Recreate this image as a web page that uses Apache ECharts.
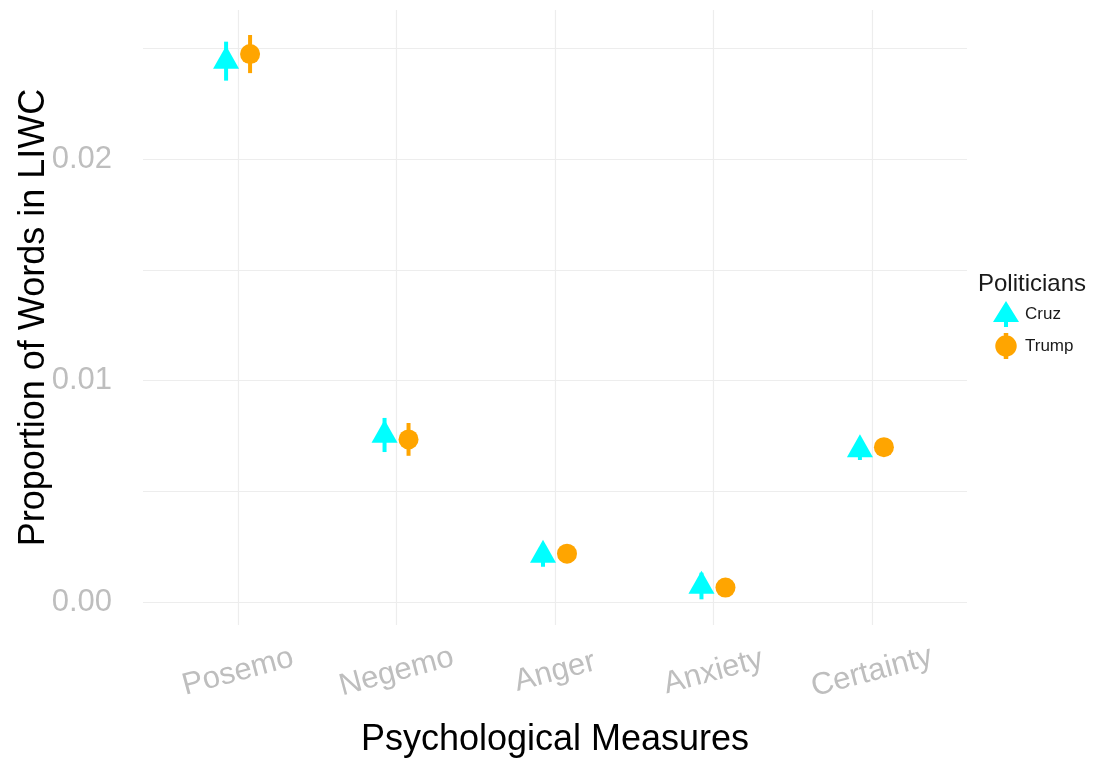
<!DOCTYPE html>
<html>
<head>
<meta charset="utf-8">
<script src="https://cdn.jsdelivr.net/npm/echarts@6/dist/echarts.min.js"></script>
<style>
html,body{margin:0;padding:0;background:#fff;}
#chart{width:1099px;height:763px;}
</style>
</head>
<body>
<div id="chart"></div>
<script>
// ---- data ----
const categories = ['Posemo', 'Negemo', 'Anger', 'Anxiety', 'Certainty'];
const politicians = ['Cruz', 'Trump'];
const cruzMean  = [0.02442, 0.00754, 0.00212, 0.00072, 0.00688];
const cruzErr   = [0.00088, 0.00077, 0.00053, 0.00060, 0.00047];
const trumpMean = [0.02474, 0.00734, 0.00218, 0.00065, 0.00699];
const trumpErr  = [0.00086, 0.00074, 0.00040, 0.00030, 0.00030];
const yTickValues  = [0, 0.005, 0.01, 0.015, 0.02, 0.025];
const yLabelValues = [0, 0.01, 0.02];

// ---- layout / style ----
const DODGE = 0.0757;           // dodge offset in category units
const FONT = 'Liberation Sans';
const CYAN = '#00ffff', ORANGE = '#ffa500';
const catPos = categories.map((c, i) => i + 1);

function points(mean, dir) {
  return mean.map((v, i) => [catPos[i] + dir * DODGE, v]);
}
function ranges(mean, err, dir) {
  return mean.map((v, i) => [catPos[i] + dir * DODGE, v - err[i], v + err[i]]);
}
function errRender(color) {
  return function (params, api) {
    const p1 = api.coord([api.value(0), api.value(1)]);
    const p2 = api.coord([api.value(0), api.value(2)]);
    return {
      type: 'line',
      shape: { x1: p1[0], y1: p1[1], x2: p2[0], y2: p2[1] },
      style: { stroke: color, lineWidth: 4 }
    };
  };
}

const cruzIcon  = 'path://M13,0 L26,21 L15,21 L15,26 L11,26 L11,21 L0,21 Z';
const trumpIcon = 'path://M0.5,11.5 A9.5,9.5 0 1,1 19.5,11.5 A9.5,9.5 0 1,1 0.5,11.5 Z M8,0 L12,0 L12,23 L8,23 Z';

const chart = echarts.init(document.getElementById('chart'));
chart.setOption({
  animation: false,
  backgroundColor: '#ffffff',
  textStyle: { fontFamily: FONT },
  grid: { left: 143, right: 132, top: 10, bottom: 138, containLabel: false, outerBoundsMode: 'none' },
  title: {
    text: 'Politicians', left: 978, top: 272, padding: 0,
    textStyle: { fontFamily: FONT, fontSize: 24, fontWeight: 'normal', color: '#1a1a1a' }
  },
  legend: {
    orient: 'vertical', left: 993, top: 301, padding: 0,
    itemWidth: 28, itemHeight: 26, itemGap: 6,
    textStyle: { fontFamily: FONT, fontSize: 17, color: '#1a1a1a' },
    data: [
      { name: politicians[0], icon: cruzIcon },
      { name: politicians[1], icon: trumpIcon }
    ]
  },
  xAxis: {
    type: 'value', min: 0.4, max: 5.6,
    name: 'Psychological Measures', nameLocation: 'middle', nameGap: 97,
    nameTextStyle: { fontFamily: FONT, fontSize: 36, color: '#000' },
    axisLine: { show: false },
    axisTick: { show: false, customValues: catPos },
    axisLabel: {
      customValues: catPos,
      formatter: v => categories[Math.round(v) - 1] || '',
      rotate: 15, align: 'center', verticalAlign: 'middle', margin: 47,
      fontFamily: FONT, fontSize: 31, color: '#bebebe'
    },
    splitLine: { show: true, lineStyle: { color: '#ededed', width: 1.2 } }
  },
  yAxis: {
    type: 'value', min: -0.00104, max: 0.02673,
    name: 'Proportion of Words in LIWC', nameLocation: 'middle', nameGap: 91,
    nameMoveOverlap: false,
    nameTextStyle: { fontFamily: FONT, fontSize: 36, color: '#000' },
    axisLine: { show: false },
    axisTick: { show: false, customValues: yTickValues },
    axisLabel: {
      customValues: yLabelValues,
      formatter: v => v.toFixed(2),
      margin: 31, fontFamily: FONT, fontSize: 31, color: '#bebebe'
    },
    splitLine: { show: true, lineStyle: { color: '#ededed', width: 1.2 } }
  },
  series: [
    {
      name: 'Cruz-range', type: 'custom', z: 2,
      renderItem: errRender(CYAN),
      data: ranges(cruzMean, cruzErr, -1),
      itemStyle: { color: CYAN }
    },
    {
      name: 'Trump-range', type: 'custom', z: 2,
      renderItem: errRender(ORANGE),
      data: ranges(trumpMean, trumpErr, 1),
      itemStyle: { color: ORANGE }
    },
    {
      name: politicians[0], type: 'scatter', z: 3,
      symbol: 'triangle', symbolSize: [26, 23], symbolOffset: [0, -3.8],
      itemStyle: { color: CYAN, opacity: 1 },
      data: points(cruzMean, -1)
    },
    {
      name: politicians[1], type: 'scatter', z: 3,
      symbol: 'circle', symbolSize: 20,
      itemStyle: { color: ORANGE, opacity: 1 },
      data: points(trumpMean, 1)
    }
  ]
});
</script>
</body>
</html>
